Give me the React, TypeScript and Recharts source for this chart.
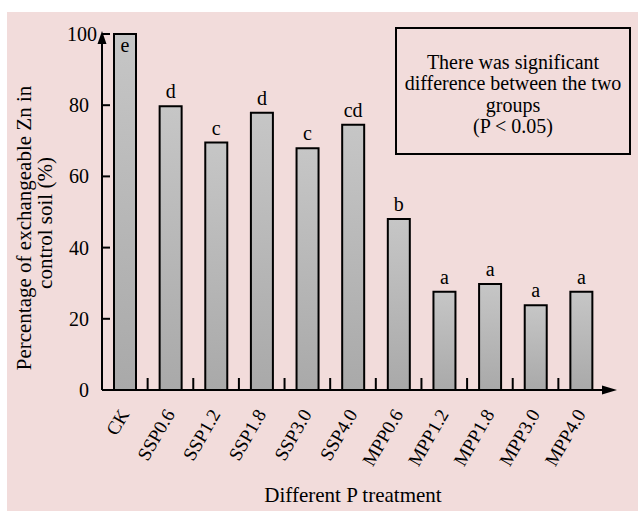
import { BarChart, Bar, XAxis, YAxis, LabelList } from 'recharts';

const categories = ['CK', 'SSP0.6', 'SSP1.2', 'SSP1.8', 'SSP3.0', 'SSP4.0', 'MPP0.6', 'MPP1.2', 'MPP1.8', 'MPP3.0', 'MPP4.0'];
const exchangeableZn = [100, 79.7, 69.5, 77.9, 67.9, 74.5, 48, 27.6, 29.8, 23.8, 27.6];
const significance = ['e', 'd', 'c', 'd', 'c', 'cd', 'b', 'a', 'a', 'a', 'a'];
const yTicks = [0, 20, 40, 60, 80, 100];

const FONT = '"Liberation Serif", "Times New Roman", serif';
const W = 638;
const H = 511;
const PLOT_LEFT = 102;
const PLOT_RIGHT = 604;
const BAND = (PLOT_RIGHT - PLOT_LEFT) / categories.length;

const chartData = categories.map((name, i) => ({
  name,
  value: exchangeableZn[i],
  sig: significance[i],
}));

// category labels rotated, plus the short upward tick between bars
const XTick = (props: any) => {
  const { x, y, payload, index } = props;
  const last = index === categories.length - 1;
  const tx = x + 5;
  const ty = y + 24;
  return (
    <g>
      {!last && (
        <line x1={x + BAND / 2} y1={y} x2={x + BAND / 2} y2={y - 12} stroke="#000" strokeWidth={2} />
      )}
      <text
        x={tx}
        y={ty}
        textAnchor="end"
        transform={`rotate(-60, ${tx}, ${ty})`}
        fontFamily={FONT}
        fontSize={19}
        fill="#000"
      >
        {payload.value}
      </text>
    </g>
  );
};

// inward ticks on the value axis
const YTick = (props: any) => {
  const { x, y, payload } = props;
  const gap = payload.value === 100 ? 5 : 13;
  return (
    <g>
      {payload.value !== 0 && <line x1={x} y1={y} x2={x + 8} y2={y} stroke="#000" strokeWidth={2} />}
      <text x={x - gap} y={y} textAnchor="end" dominantBaseline="central" fontFamily={FONT} fontSize={20} fill="#000">
        {payload.value}
      </text>
    </g>
  );
};

const YLabel = () => (
  <g fontFamily={FONT} fontSize={21} fill="#000">
    <text x={31} y={228} textAnchor="middle" transform="rotate(-90, 31, 228)">
      Percentage of exchangeable Zn in
    </text>
    <text x={52} y={223} textAnchor="middle" transform="rotate(-90, 52, 223)">
      control soil (%)
    </text>
  </g>
);

const SigLabel = (props: any) => {
  const { x, y, width, value, index } = props;
  const cx = x + width / 2;
  const ty = index === 0 ? y + 18 : y - 8;
  return (
    <text x={cx} y={ty} textAnchor="middle" fontFamily={FONT} fontSize={20} fill="#000">
      {value}
    </text>
  );
};

export default function App() {
  return (
    <div style={{ position: 'absolute', left: 0, top: 0, width: W, height: H, background: '#fff', fontFamily: FONT }}>
      <div style={{ position: 'absolute', left: 7, top: 12, right: 0, bottom: 0, background: '#f2dcdb' }} />
      <div style={{ position: 'absolute', left: 0, top: 0 }}>
        <BarChart
          width={W}
          height={H}
          data={chartData}
          margin={{ top: 34, right: W - PLOT_RIGHT, left: 0, bottom: 0 }}
        >
          <defs>
            <linearGradient id="barGrad" x1="0" y1="0" x2="0" y2="1">
              <stop offset="0%" stopColor="#c6c6c6" />
              <stop offset="100%" stopColor="#a9a9a9" />
            </linearGradient>
            <marker id="arrowY" viewBox="0 -6 16 12" refX={10} refY={0} markerWidth={16} markerHeight={12}
              markerUnits="userSpaceOnUse" orient="auto-start-reverse">
              <path d="M0,-4.5L13,0L0,4.5Z" fill="#000" />
            </marker>
            <marker id="arrowX" viewBox="0 -6 16 12" refX={2} refY={0} markerWidth={16} markerHeight={12}
              markerUnits="userSpaceOnUse" orient="auto">
              <path d="M0,-4.5L15,0L0,4.5Z" fill="#000" />
            </marker>
          </defs>
          <XAxis
            dataKey="name"
            height={121}
            interval={0}
            tickSize={0}
            tickMargin={0}
            tickLine={false}
            axisLine={{ stroke: '#000', strokeWidth: 2, markerEnd: 'url(#arrowX)' }}
            tick={<XTick />}
            label={{ value: 'Different P treatment', position: 'insideBottom', offset: 9, fill: '#000', fontSize: 21, fontFamily: FONT }}
          />
          <YAxis
            type="number"
            domain={[0, 100]}
            ticks={yTicks}
            interval={0}
            width={PLOT_LEFT}
            tickSize={0}
            tickMargin={0}
            tickLine={false}
            axisLine={{ stroke: '#000', strokeWidth: 2, markerStart: 'url(#arrowY)' }}
            tick={<YTick />}
            label={{ content: () => <YLabel /> }}
          />
          <Bar dataKey="value" barSize={22} fill="url(#barGrad)" stroke="#000" strokeWidth={2} isAnimationActive={false}>
            <LabelList dataKey="sig" content={<SigLabel />} />
          </Bar>
        </BarChart>
      </div>
      <div
        style={{
          position: 'absolute',
          left: 395,
          top: 27,
          width: 236,
          height: 128,
          boxSizing: 'border-box',
          border: '2px solid #000',
          paddingTop: 22.5,
          textAlign: 'center',
          whiteSpace: 'nowrap',
          fontFamily: FONT,
          fontSize: 20,
          lineHeight: '21.5px',
          color: '#000',
        }}
      >
        <div>There was significant</div>
        <div>difference between the two</div>
        <div>groups</div>
        <div>(P &lt; 0.05)</div>
      </div>
    </div>
  );
}
